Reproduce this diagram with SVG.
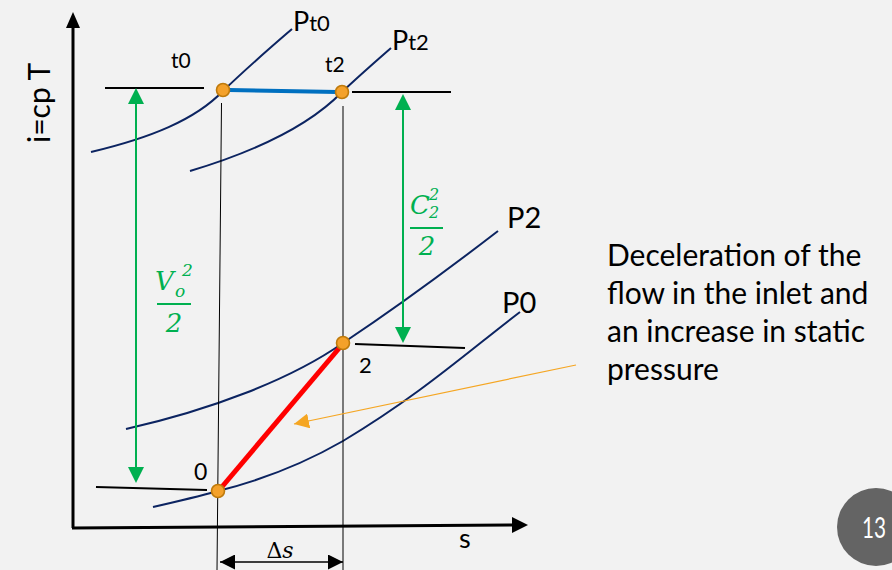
<svg xmlns="http://www.w3.org/2000/svg" width="892" height="570" viewBox="0 0 892 570">
<defs>
<style>
.lbl{font-family:Lato,"Open Sans","Liberation Sans",sans-serif;fill:#000}
.math{font-family:"DejaVu Serif","Liberation Serif",serif;font-style:italic;fill:#00b050}
.curve{fill:none;stroke:#0c2461;stroke-width:2}
.thin{stroke:#000;stroke-width:1;fill:none}
.hl{stroke:#000;stroke-width:2;fill:none}
.grn{stroke:#00b050;stroke-width:2;fill:none}
.pt{fill:#f4a12a;stroke:#bf7a0b;stroke-width:1.6}
</style>
<marker id="ka" viewBox="0 0 10 10" refX="10" refY="5" markerWidth="15" markerHeight="15" markerUnits="userSpaceOnUse" orient="auto"><path d="M0,0 L10,5 L0,10 Z" fill="#000"/></marker>
<marker id="kb" viewBox="0 0 10 10" refX="0" refY="5" markerWidth="15" markerHeight="15" markerUnits="userSpaceOnUse" orient="auto"><path d="M10,0 L0,5 L10,10 Z" fill="#000"/></marker>
<marker id="oa" viewBox="0 0 10 10" refX="10" refY="5" markerWidth="15" markerHeight="15" markerUnits="userSpaceOnUse" orient="auto"><path d="M0,0 L10,5 L0,10 Z" fill="#f5a623"/></marker>
</defs>
<rect width="892" height="570" fill="#f2f2f2"/>

<g id="axes">
<line x1="73" y1="528" x2="73" y2="27" stroke="#000" stroke-width="3"/>
<path d="M73,12 L66,28 L80,28 Z" fill="#000"/>
<line x1="72" y1="528" x2="513" y2="525" stroke="#000" stroke-width="3"/>
<path d="M528,525 L512,517 L512,533 Z" fill="#000"/>
<text class="lbl" x="0" y="0" font-size="30" transform="translate(50,143) rotate(-90)">i=cp T</text>
<text class="lbl" x="459" y="548" font-size="27">s</text>
</g>

<g id="isobars">
<path class="curve" d="M91,152 C150,138 195,120 223,91 C250,65 270,48 292,29"/>
<path class="curve" d="M190,171 C260,150 310,125 342,92 C360,75 375,62 391,48"/>
<path class="curve" d="M126,429 C210,410 290,380 343,343 C400,305 450,268 498,231"/>
<path class="curve" d="M153,507 C175,502 200,496 218,491 C270,478 310,460 343,441 C420,395 470,350 520,312"/>
<text class="lbl" x="293" y="31" font-size="27">P<tspan font-size="22">t0</tspan></text>
<text class="lbl" x="392" y="50" font-size="27">P<tspan font-size="22">t2</tspan></text>
<text class="lbl" x="507" y="228" font-size="29">P2</text>
<text class="lbl" x="502" y="313" font-size="29">P0</text>
</g>

<g id="levels">
<line class="hl" x1="105" y1="88" x2="204" y2="88"/>
<line class="hl" x1="352" y1="92" x2="451" y2="92"/>
<line class="hl" x1="355" y1="344" x2="465" y2="348"/>
<line class="hl" x1="96" y1="487" x2="207" y2="490"/>
<text class="lbl" x="171" y="68" font-size="21">t0</text>
<text class="lbl" x="325" y="72" font-size="21">t2</text>
<text class="lbl" x="359" y="373" font-size="22">2</text>
<text class="lbl" x="194" y="480" font-size="23">0</text>
</g>

<g id="verticals">
<line class="thin" x1="221.5" y1="103" x2="217" y2="570"/>
<line class="thin" x1="343" y1="106" x2="343" y2="570"/>
</g>

<g id="connectors">
<line x1="229" y1="90" x2="337" y2="92" stroke="#0070c0" stroke-width="4"/>
<line x1="221" y1="488" x2="341" y2="346" stroke="#ff0000" stroke-width="5"/>
<line x1="136" y1="103" x2="136" y2="468" class="grn"/>
<path d="M136,88 L128,104 L144,104 Z" fill="#00b050"/>
<path d="M136,483 L128,467 L144,467 Z" fill="#00b050"/>
<line x1="403" y1="109" x2="403" y2="328" class="grn"/>
<path d="M403,94 L395,110 L411,110 Z" fill="#00b050"/>
<path d="M403,343 L395,327 L411,327 Z" fill="#00b050"/>
<line x1="576" y1="365" x2="294" y2="424" stroke="#f5a623" stroke-width="1.2" marker-end="url(#oa)"/>
<line x1="220" y1="562" x2="343" y2="562" stroke="#000" stroke-width="1.5" marker-start="url(#kb)" marker-end="url(#ka)"/>
</g>

<g id="points">
<circle class="pt" cx="223" cy="90" r="6.5"/>
<circle class="pt" cx="342" cy="92" r="6.5"/>
<circle class="pt" cx="343" cy="343" r="6.5"/>
<circle class="pt" cx="218" cy="491" r="6.5"/>
</g>

<g id="math-labels">
<text class="math" x="155" y="290" font-size="26">V</text>
<text class="math" x="175" y="297" font-size="17">o</text>
<text class="math" x="182" y="276" font-size="17" font-style="normal">2</text>
<line x1="157" y1="304" x2="191" y2="304" stroke="#00b050" stroke-width="1.8"/>
<text class="math" x="174" y="332" font-size="26" text-anchor="middle">2</text>
<text class="math" x="410" y="214" font-size="26">C</text>
<text class="math" x="429" y="218" font-size="16">2</text>
<text class="math" x="429" y="200" font-size="16">2</text>
<line x1="410" y1="228" x2="443" y2="228" stroke="#00b050" stroke-width="1.8"/>
<text class="math" x="427" y="255" font-size="26" text-anchor="middle">2</text>
<text x="280" y="558" font-size="22" text-anchor="middle" font-family="DejaVu Serif,Liberation Serif,serif">Δ<tspan font-style="italic">s</tspan></text>
</g>

<g id="note">
<text class="lbl" font-size="30" x="607" y="266">Deceleration of the</text>
<text class="lbl" font-size="30" x="607" y="304">flow in the inlet and</text>
<text class="lbl" font-size="30" x="607" y="342">an increase in static</text>
<text class="lbl" font-size="30" x="607" y="380">pressure</text>
</g>

<g id="page">
<circle cx="876" cy="527" r="39" fill="#646464"/>
<text x="862" y="538" font-size="28" fill="#fff" font-family="Lato,'Open Sans',sans-serif" textLength="24" lengthAdjust="spacingAndGlyphs">13</text>
</g>
</svg>
